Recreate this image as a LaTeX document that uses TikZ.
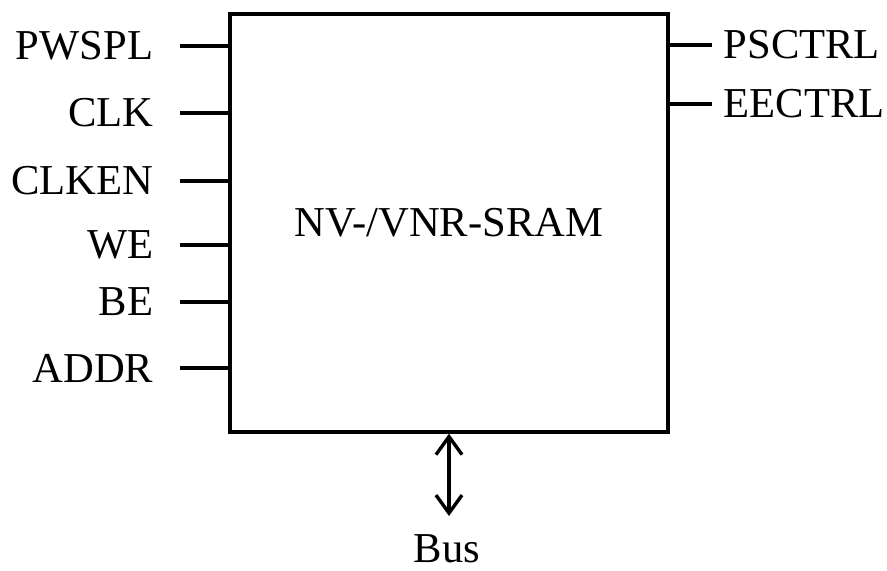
\documentclass[tikz,border=0pt]{standalone}
\usepackage{fontspec}
\setmainfont{Liberation Serif}
\usetikzlibrary{arrows.meta}

\begin{document}
\begin{tikzpicture}[x=0.5pt, y=-0.5pt, line width=1.7pt,
    >={Straight Barb[length=9pt, width=13pt]},
    font=\fontsize{21.3}{25}\selectfont,
    pinl/.style={anchor=east, inner xsep=12.5pt, inner ysep=0pt},
    pinr/.style={anchor=west, inner xsep=5pt, inner ysep=0pt}]

  \useasboundingbox (0,0) rectangle (887,570);

  % 存储器方框
  \node[draw, minimum width=219pt, minimum height=209pt, inner sep=0pt] (sram) at (449,223) {NV-/VNR-SRAM};

  % 左侧输入引脚
  \foreach \name/\y in {PWSPL/46, CLK/113, CLKEN/181, WE/245, BE/302, ADDR/368} {
    \node[pinl] (\name) at (180,\y) {\name};
    \draw (\name.east) -- (sram.west |- \name.east);
  }

  % 右侧输出引脚
  \foreach \name/\y in {PSCTRL/45, EECTRL/104} {
    \node[pinr] (\name) at (712,\y) {\name};
    \draw (sram.east |- \name.west) -- (\name.west);
  }

  % 双向总线
  \coordinate (busend) at (449,516);
  \node[inner sep=0pt] (bus) at (447,549) {Bus};
  \draw[<->] (sram.south) -- (busend);

\end{tikzpicture}
\end{document}
